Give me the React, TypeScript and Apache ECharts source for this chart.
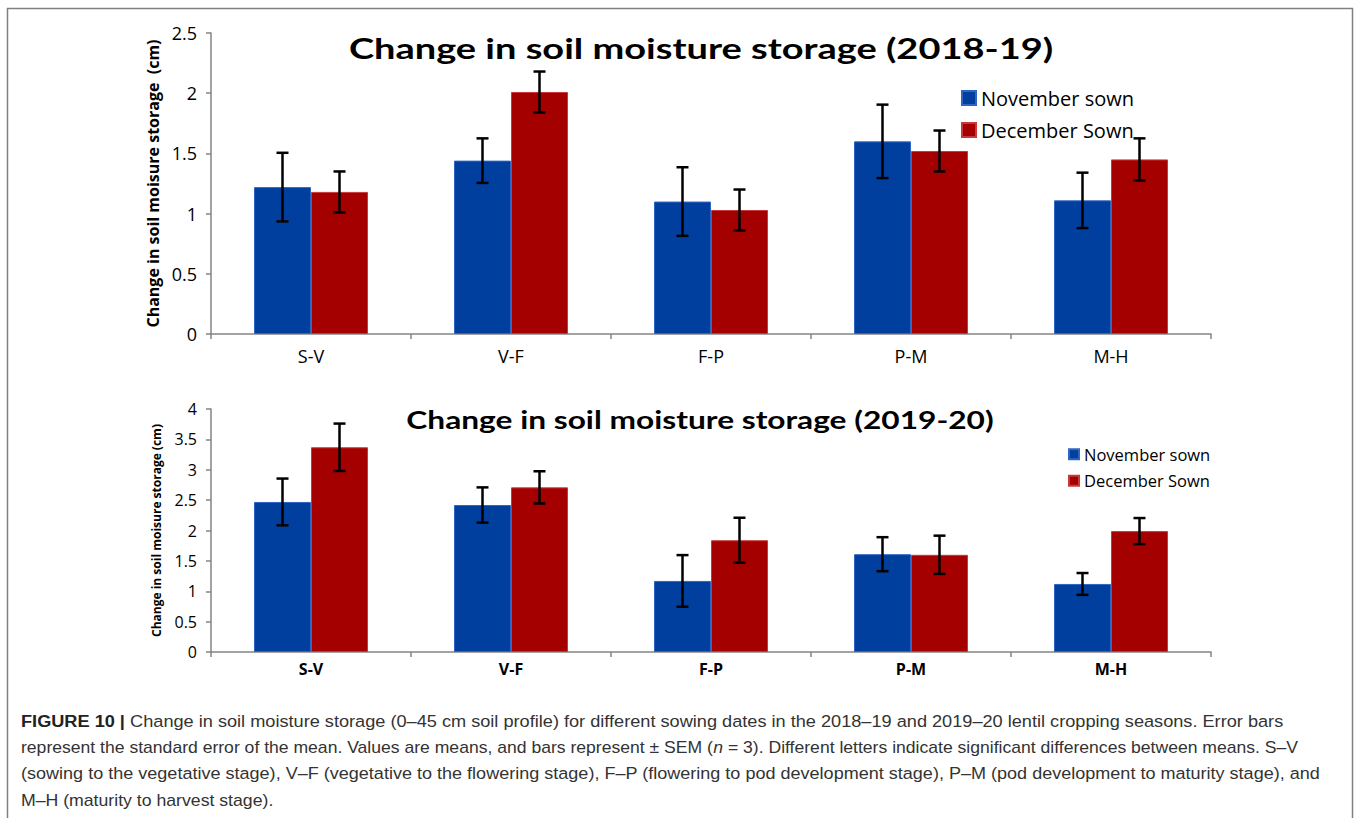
import React, { useEffect, useRef } from "react";
import * as echarts from "echarts";

const categories = ["S-V", "V-F", "F-P", "P-M", "M-H"];
const seriesNames = ["November sown", "December Sown"];

// 2018-19
const nov1819 = [1.22, 1.44, 1.1, 1.6, 1.11];
const nov1819Sem = [0.285, 0.185, 0.285, 0.305, 0.23];
const dec1819 = [1.18, 2.01, 1.03, 1.52, 1.45];
const dec1819Sem = [0.17, 0.17, 0.17, 0.17, 0.175];

// 2019-20
const nov1920 = [2.47, 2.42, 1.17, 1.61, 1.12];
const nov1920Sem = [0.385, 0.29, 0.425, 0.28, 0.18];
const dec1920 = [3.37, 2.71, 1.84, 1.6, 1.99];
const dec1920Sem = [0.39, 0.265, 0.37, 0.315, 0.215];

const titles = [
  "Change in soil moisture storage (2018-19)",
  "Change in soil moisture storage (2019-20)",
];
const yNames = [
  "Change in soil moisure storage  (cm)",
  "Change in soil moisure storage (cm)",
];
const captionLines = [
  "{b|FIGURE 10 |}{r| Change in soil moisture storage (0–45 cm soil profile) for different sowing dates in the 2018–19 and 2019–20 lentil cropping seasons. Error bars}",
  "{r|represent the standard error of the mean. Values are means, and bars represent ± SEM (}{i|n}{r| = 3). Different letters indicate significant differences between means. S–V}",
  "{r|(sowing to the vegetative stage), V–F (vegetative to the flowering stage), F–P (flowering to pod development stage), P–M (pod development to maturity stage), and}",
  "{r|M–H (maturity to harvest stage).}",
];
// horizontal stretch per caption line (layout only)
const CAPTION_STRETCH = [1.069, 1.034, 1.062, 1.04];

const BLUE = "#003f9e";
const RED = "#a50000";
const FONT = "Lato, 'Open Sans', sans-serif";
const WFONT = "'Open Sans', Lato, sans-serif";
const CFONT = "'Liberation Sans', Arial, sans-serif";
const CAP_FS = 17;
const BAR_W = 57;

function errSeries(name: string, vals: number[], sems: number[], axisIdx: number, offset: number) {
  return {
    type: "custom",
    name,
    xAxisIndex: axisIdx,
    yAxisIndex: axisIdx,
    z: 10,
    data: vals.map((v, i) => [i, v, sems[i]]),
    renderItem: (params: any, api: any) => {
      const i = api.value(0);
      const v = api.value(1);
      const e = api.value(2);
      const hi = api.coord([i, v + e]);
      const lo = api.coord([i, v - e]);
      const cx = hi[0] + offset;
      const cap = 6;
      const st = { stroke: "#000", lineWidth: 2.5 };
      return {
        type: "group",
        children: [
          { type: "line", shape: { x1: cx, y1: hi[1], x2: cx, y2: lo[1] }, style: st },
          { type: "line", shape: { x1: cx - cap, y1: hi[1], x2: cx + cap, y2: hi[1] }, style: st },
          { type: "line", shape: { x1: cx - cap, y1: lo[1], x2: cx + cap, y2: lo[1] }, style: st },
        ],
      };
    },
  };
}

function barSeries(name: string, vals: number[], axisIdx: number, color: string, border: string) {
  return {
    type: "bar",
    name,
    xAxisIndex: axisIdx,
    yAxisIndex: axisIdx,
    barWidth: BAR_W,
    barGap: "0%",
    data: vals,
    itemStyle: { color, borderColor: border, borderWidth: 1 },
  };
}

export default function App() {
  const ref = useRef<HTMLDivElement>(null);
  useEffect(() => {
    document.body.style.margin = "0";
    const chart = echarts.init(ref.current!, null, { renderer: "svg" });
    const axisLine = { show: true, lineStyle: { color: "#858585", width: 1.5 } };
    const xAxis = (idx: number, fs: number, margin: number) => ({
      type: "category",
      gridIndex: idx,
      data: categories,
      axisLine,
      axisTick: { show: true, alignWithLabel: false, length: 5, lineStyle: { color: "#858585", width: 1.5 } },
      axisLabel: { color: "#000", fontSize: fs, fontFamily: WFONT, margin, fontWeight: idx === 1 ? "bold" : "normal" },
    });
    const yAxis = (idx: number, max: number, fs: number, nameFs: number, nameGap: number) => ({
      type: "value",
      gridIndex: idx,
      min: 0,
      max,
      interval: 0.5,
      name: yNames[idx],
      nameLocation: "middle",
      nameGap,
      nameTextStyle: { color: "#000", fontSize: nameFs, fontWeight: "bold", fontFamily: WFONT },
      axisLine,
      axisTick: { show: true, length: 5, lineStyle: { color: "#858585", width: 1.5 } },
      splitLine: { show: false },
      axisLabel: { color: "#000", fontSize: fs, fontFamily: WFONT, margin: 14 },
    });
    const legFs0 = 20;
    const legFs1 = 16.5;
    const capStyle = (extra: any) => ({ fontSize: CAP_FS, fontFamily: CFONT, fill: "#333", ...extra });
    const option: any = {
      animation: false,
      backgroundColor: "#fff",
      grid: [
        { left: 211, right: 146, top: 33, height: 301 },
        { left: 211, right: 146, top: 409, height: 243 },
      ],
      xAxis: [xAxis(0, 18, 13), xAxis(1, 16, 9)],
      yAxis: [yAxis(0, 2.5, 18, 16, 44), yAxis(1, 4, 16, 12, 49)],
      legend: [
        {
          data: seriesNames,
          orient: "vertical",
          left: 961,
          top: 98 - legFs0 / 2,
          padding: 0,
          itemWidth: 14,
          itemHeight: 14,
          itemGap: 32 - legFs0,
          icon: "rect",
          textStyle: { color: "#000", fontSize: legFs0, fontFamily: WFONT },
        },
        {
          data: seriesNames,
          orient: "vertical",
          left: 1068,
          top: 454 - legFs1 / 2,
          padding: 0,
          itemWidth: 10,
          itemHeight: 10,
          itemGap: 26 - legFs1,
          icon: "rect",
          textStyle: { color: "#000", fontSize: legFs1, fontFamily: WFONT },
        },
      ],
      series: [
        barSeries(seriesNames[0], nov1819, 0, BLUE, "#2f66c4"),
        barSeries(seriesNames[1], dec1819, 0, RED, "#c83a3a"),
        barSeries(seriesNames[0], nov1920, 1, BLUE, "#2f66c4"),
        barSeries(seriesNames[1], dec1920, 1, RED, "#c83a3a"),
        errSeries("errNov1819", nov1819, nov1819Sem, 0, -BAR_W / 2),
        errSeries("errDec1819", dec1819, dec1819Sem, 0, BAR_W / 2),
        errSeries("errNov1920", nov1920, nov1920Sem, 1, -BAR_W / 2),
        errSeries("errDec1920", dec1920, dec1920Sem, 1, BAR_W / 2),
      ],
      graphic: [
        {
          type: "rect",
          shape: { x: 7.5, y: 8.5, width: 1345, height: 840 },
          style: { fill: "none", stroke: "#808080", lineWidth: 1.5 },
          silent: true,
        },
        {
          type: "text",
          x: 701,
          y: 48,
          scaleX: 1.31,
          style: {
            text: titles[0],
            fill: "#000",
            font: `bold 29px ${FONT}`,
            textAlign: "center",
            textVerticalAlign: "middle",
          },
        },
        {
          type: "text",
          x: 700,
          y: 420,
          scaleX: 1.32,
          style: {
            text: titles[1],
            fill: "#000",
            font: `bold 24px ${FONT}`,
            textAlign: "center",
            textVerticalAlign: "middle",
          },
        },
        ...captionLines.map((t, k) => ({
          type: "text",
          x: 21,
          y: 721 + k * 26.3,
          scaleX: CAPTION_STRETCH[k],
          style: {
            text: t,
            fill: "#333",
            fontSize: CAP_FS,
            fontFamily: CFONT,
            textVerticalAlign: "middle",
            rich: {
              b: capStyle({ fontWeight: "bold", fill: "#222" }),
              r: capStyle({}),
              i: capStyle({ fontStyle: "italic" }),
            },
          },
        })),
      ],
    };
    chart.setOption(option);
    return () => chart.dispose();
  }, []);
  return <div ref={ref} style={{ width: 1357, height: 818 }} />;
}
